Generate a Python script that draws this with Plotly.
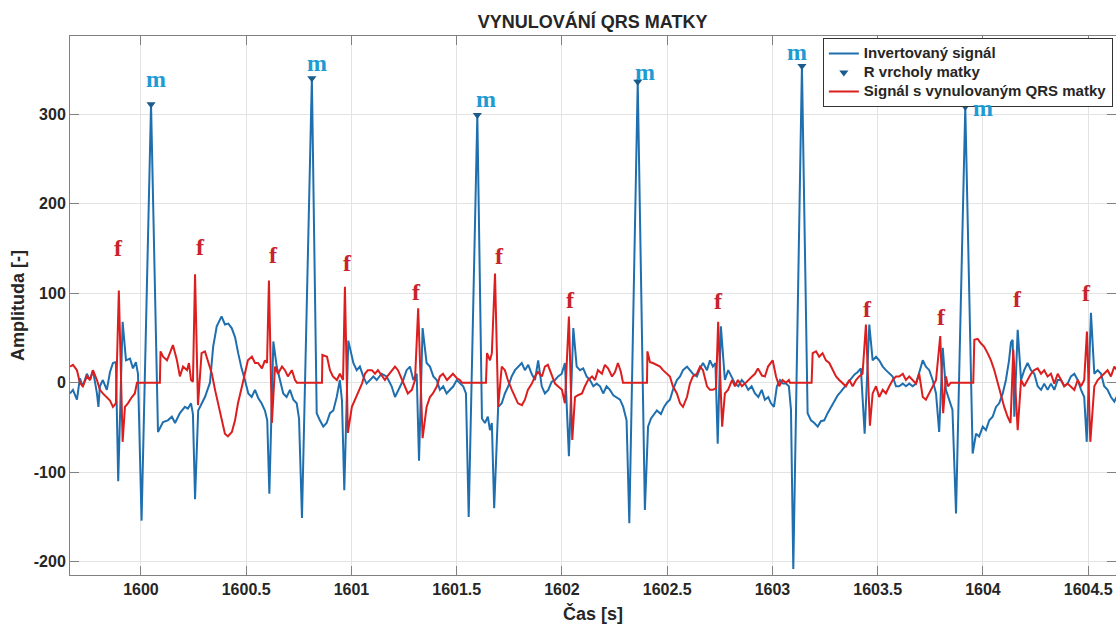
import plotly.graph_objects as go

# ---- Inverted abdominal signal (time [s], amplitude [-]) ----
blue_t = [
    1599.663, 1599.677, 1599.696, 1599.710, 1599.724, 1599.743, 1599.758, 1599.772, 1599.791, 1599.798,
    1599.805, 1599.819, 1599.838, 1599.853, 1599.867, 1599.881, 1599.892, 1599.913, 1599.929, 1599.948,
    1599.962, 1599.976, 1599.986, 1600.003, 1600.048, 1600.081, 1600.105, 1600.128, 1600.147, 1600.162,
    1600.185, 1600.209, 1600.223, 1600.238, 1600.247, 1600.257, 1600.272, 1600.288, 1600.304, 1600.328,
    1600.343, 1600.360, 1600.383, 1600.399, 1600.415, 1600.431, 1600.447, 1600.462, 1600.478, 1600.494,
    1600.510, 1600.526, 1600.542, 1600.557, 1600.573, 1600.589, 1600.600, 1600.610, 1600.629, 1600.645,
    1600.660, 1600.676, 1600.692, 1600.708, 1600.724, 1600.740, 1600.751, 1600.765, 1600.812, 1600.835,
    1600.850, 1600.866, 1600.882, 1600.898, 1600.914, 1600.930, 1600.945, 1600.955, 1600.966, 1600.985,
    1601.009, 1601.025, 1601.040, 1601.056, 1601.072, 1601.088, 1601.104, 1601.120, 1601.143, 1601.167,
    1601.191, 1601.207, 1601.222, 1601.246, 1601.262, 1601.278, 1601.294, 1601.310, 1601.321, 1601.338,
    1601.357, 1601.373, 1601.389, 1601.405, 1601.420, 1601.436, 1601.452, 1601.468, 1601.484, 1601.500,
    1601.515, 1601.531, 1601.544, 1601.557, 1601.598, 1601.620, 1601.634, 1601.648, 1601.658, 1601.667,
    1601.678, 1601.697, 1601.714, 1601.729, 1601.745, 1601.761, 1601.777, 1601.792, 1601.809, 1601.824,
    1601.840, 1601.856, 1601.872, 1601.887, 1601.904, 1601.919, 1601.935, 1601.951, 1601.967, 1601.982,
    1601.999, 1602.014, 1602.033, 1602.054, 1602.070, 1602.086, 1602.101, 1602.117, 1602.133, 1602.149,
    1602.165, 1602.181, 1602.196, 1602.212, 1602.228, 1602.244, 1602.260, 1602.276, 1602.291, 1602.307,
    1602.320, 1602.360, 1602.394, 1602.409, 1602.423, 1602.437, 1602.451, 1602.470, 1602.485, 1602.499,
    1602.513, 1602.527, 1602.546, 1602.561, 1602.575, 1602.594, 1602.608, 1602.622, 1602.641, 1602.656,
    1602.670, 1602.689, 1602.703, 1602.717, 1602.729, 1602.740, 1602.755, 1602.774, 1602.790, 1602.806,
    1602.822, 1602.838, 1602.854, 1602.869, 1602.885, 1602.901, 1602.917, 1602.933, 1602.949, 1602.964,
    1602.980, 1602.993, 1603.007, 1603.021, 1603.036, 1603.050, 1603.064, 1603.078, 1603.088, 1603.099,
    1603.140, 1603.167, 1603.183, 1603.199, 1603.215, 1603.230, 1603.246, 1603.262, 1603.278, 1603.294,
    1603.310, 1603.325, 1603.341, 1603.357, 1603.373, 1603.389, 1603.405, 1603.420, 1603.438, 1603.460,
    1603.476, 1603.492, 1603.507, 1603.524, 1603.539, 1603.555, 1603.571, 1603.587, 1603.602, 1603.619,
    1603.634, 1603.650, 1603.666, 1603.682, 1603.697, 1603.714, 1603.729, 1603.745, 1603.761, 1603.777,
    1603.792, 1603.809, 1603.824, 1603.838, 1603.855, 1603.872, 1603.916, 1603.951, 1603.967, 1603.982,
    1603.999, 1604.014, 1604.030, 1604.046, 1604.062, 1604.077, 1604.094, 1604.109, 1604.124, 1604.133,
    1604.141, 1604.149, 1604.165, 1604.181, 1604.196, 1604.212, 1604.228, 1604.244, 1604.260, 1604.276,
    1604.291, 1604.307, 1604.323, 1604.339, 1604.355, 1604.371, 1604.386, 1604.402, 1604.418, 1604.434,
    1604.450, 1604.466, 1604.481, 1604.493, 1604.513, 1604.529, 1604.545, 1604.561, 1604.576, 1604.592,
    1604.608, 1604.624, 1604.637,
]
blue_v = [
    -12, -8, -19, 5, -4, 10, 3, 14, -12, -27,
    -4, 3, -8, 12, 22, 23, -110, 68, 25, 27,
    16, 23, 10, -154, 311, -55, -44, -42, -38, -45,
    -34, -27, -29, -23, -35, -130, -31, -23, -16, 0,
    40, 63, 74, 65, 66, 61, 51, 33, 16, 3,
    -12, -16, -8, -17, -23, -31, -42, -124, 46, 18,
    3, -12, -16, -8, -19, -23, -40, -151, 340, -34,
    -42, -49, -45, -34, -31, -16, 3, -20, -120, 47,
    22, 14, 18, 7, -1, 3, 7, 3, 10, 7,
    -4, -16, -8, 3, 14, 18, 3, 10, -87, 61,
    22, 18, 7, 3, -8, -4, -12, -8, -4, 3,
    -1, -4, -12, -150, 299, -40, -45, -38, -53, -45,
    -140, -27, -23, -12, -4, 7, 14, 18, 22, 14,
    20, 10, 3, 25, -4, -12, -8, 1, 3, 7,
    10, 22, -82, 61, 18, 14, 16, 7, 3, -4,
    -1, -4, -12, -4, -8, -14, -17, -19, -27, -42,
    -157, 336, -142, -49, -40, -36, -31, -35, -27, -22,
    -19, -8, 3, 7, 14, 18, 14, 10, 7, 16,
    22, 14, 25, 18, 22, -68, 63, 3, 14, 7,
    -1, -4, 3, -1, -8, -4, -12, -16, -8, -19,
    -16, -23, -27, -4, 3, -1, -1, -4, -30, -208,
    353.5, -34, -42, -45, -49, -43, -42, -34, -27, -20,
    -14, -10, -5, 0, 5, 9, 12, 16, -57, 65,
    25, 29, 25, 18, 14, 10, 7, -4, -4, -1,
    -4, -1, -4, -1, 10, 25, 18, 14, 3, -12,
    -55, 39, -8, -19, -30, -146, 308, -79, -57, -60,
    -49, -53, -42, -38, -27, -23, -12, 3, 25, 45,
    48, -38, 59, 3, 14, 22, 14, 10, -4, -8,
    -1, -8, -1, -8, 3, 3, -4, -1, 7, 10,
    3, -8, -16, -66, 78, 10, 14, 10, -4, -8,
    -16, -21, -15,
]

# ---- Signal with the maternal QRS complexes set to zero ----
red_t = [
    1599.663, 1599.677, 1599.696, 1599.710, 1599.724, 1599.743, 1599.758, 1599.772, 1599.791, 1599.805,
    1599.819, 1599.838, 1599.853, 1599.867, 1599.881, 1599.895, 1599.913, 1599.924, 1599.938, 1599.957,
    1599.971, 1599.981, 1600.090, 1600.093, 1600.105, 1600.124, 1600.138, 1600.152, 1600.171, 1600.185,
    1600.200, 1600.219, 1600.228, 1600.238, 1600.247, 1600.257, 1600.271, 1600.288, 1600.304, 1600.318,
    1600.337, 1600.352, 1600.366, 1600.385, 1600.399, 1600.413, 1600.432, 1600.447, 1600.461, 1600.480,
    1600.494, 1600.508, 1600.527, 1600.542, 1600.556, 1600.575, 1600.589, 1600.599, 1600.608, 1600.622,
    1600.637, 1600.651, 1600.670, 1600.684, 1600.698, 1600.717, 1600.732, 1600.741, 1600.860, 1600.862,
    1600.884, 1600.898, 1600.912, 1600.931, 1600.945, 1600.960, 1600.969, 1600.983, 1601.002, 1601.017,
    1601.031, 1601.050, 1601.064, 1601.078, 1601.097, 1601.112, 1601.126, 1601.145, 1601.159, 1601.173,
    1601.192, 1601.207, 1601.221, 1601.240, 1601.254, 1601.268, 1601.287, 1601.302, 1601.317, 1601.338,
    1601.357, 1601.373, 1601.387, 1601.406, 1601.420, 1601.435, 1601.454, 1601.468, 1601.482, 1601.501,
    1601.515, 1601.525, 1601.639, 1601.644, 1601.658, 1601.667, 1601.682, 1601.697, 1601.714, 1601.729,
    1601.743, 1601.762, 1601.777, 1601.791, 1601.810, 1601.824, 1601.838, 1601.857, 1601.872, 1601.886,
    1601.905, 1601.919, 1601.933, 1601.952, 1601.967, 1601.981, 1602.000, 1602.014, 1602.033, 1602.049,
    1602.062, 1602.076, 1602.095, 1602.109, 1602.124, 1602.143, 1602.157, 1602.171, 1602.190, 1602.204,
    1602.219, 1602.238, 1602.252, 1602.266, 1602.280, 1602.290, 1602.404, 1602.406, 1602.418, 1602.432,
    1602.451, 1602.466, 1602.480, 1602.499, 1602.513, 1602.527, 1602.546, 1602.561, 1602.575, 1602.594,
    1602.608, 1602.622, 1602.641, 1602.656, 1602.670, 1602.689, 1602.703, 1602.717, 1602.732, 1602.742,
    1602.761, 1602.774, 1602.789, 1602.808, 1602.822, 1602.836, 1602.855, 1602.869, 1602.884, 1602.903,
    1602.917, 1602.931, 1602.950, 1602.964, 1602.979, 1603.001, 1603.017, 1603.026, 1603.032, 1603.048,
    1603.064, 1603.078, 1603.083, 1603.186, 1603.191, 1603.207, 1603.222, 1603.238, 1603.254, 1603.270,
    1603.286, 1603.302, 1603.317, 1603.333, 1603.349, 1603.365, 1603.381, 1603.397, 1603.412, 1603.428,
    1603.444, 1603.463, 1603.476, 1603.492, 1603.507, 1603.524, 1603.539, 1603.555, 1603.571, 1603.587,
    1603.602, 1603.619, 1603.634, 1603.650, 1603.666, 1603.682, 1603.697, 1603.714, 1603.729, 1603.745,
    1603.761, 1603.777, 1603.797, 1603.811, 1603.824, 1603.834, 1603.847, 1603.954, 1603.959, 1603.975,
    1603.990, 1604.006, 1604.022, 1604.038, 1604.054, 1604.070, 1604.086, 1604.101, 1604.117, 1604.131,
    1604.144, 1604.165, 1604.181, 1604.196, 1604.212, 1604.228, 1604.244, 1604.260, 1604.276, 1604.291,
    1604.307, 1604.323, 1604.339, 1604.355, 1604.371, 1604.386, 1604.402, 1604.418, 1604.434, 1604.450,
    1604.466, 1604.481, 1604.494, 1604.510, 1604.529, 1604.545, 1604.561, 1604.576, 1604.592, 1604.608,
    1604.624, 1604.637,
]
red_v = [
    18, 20, 14, 0, -4, 7, 3, 14, 3, -8,
    -12, -16, -20, -27, -23, 103, -66, -27, -23, -16,
    -12, 0, 0, 35, 29, 25, 33, 42, 25, 7,
    18, 14, 22, 3, 1, 121, -25, 33, 35, 25,
    10, -8, -23, -42, -57, -60, -55, -42, -23, -4,
    10, 25, 29, 22, 22, 16, 25, 22, 114, -45,
    18, 10, 18, 14, 7, 14, 3, 0, 0, 31,
    29, 14, 7, 3, 10, 3, 107, -56, -27, -19,
    -12, -1, 10, 14, 14, 10, 14, 7, 3, 8,
    14, 18, 14, 3, -4, -12, -8, 3, 83, -62,
    -27, -16, -12, -4, 7, 10, 3, 7, 10, 5,
    3, 0, 0, 33, 25, 33, 122, -27, 18, 14,
    3, -8, -16, -23, -25, -19, -8, -1, 7, 12,
    7, 18, 20, 7, -1, -4, -8, -23, 74, -64,
    -16, -14, -12, -4, 3, 7, 3, 14, 10, 20,
    16, 7, 12, 22, 12, 0, 0, 35, 23, 22,
    20, 18, 14, 10, 7, -4, -12, -23, -27, -16,
    -1, 7, 10, 18, 14, -4, -8, -8, -6, 68,
    -49, -12, -8, 3, -4, 3, -4, -1, 3, 7,
    10, 16, 8, 7, 18, 25, 7, 0, -4, 3,
    0, 3, 0, 0, 33, 35, 29, 33, 25, 22,
    14, 7, 3, -1, -4, 3, -4, 3, 7, 10,
    65, -48, -12, -4, -16, -8, -12, -4, 3, 7,
    7, 10, 3, 7, 3, -1, 10, -16, -19, -12,
    -4, 3, 52, -34, 7, -4, 0, 0, 48, 49,
    44, 40, 33, 25, 14, -1, -16, -27, -38, -45,
    37, -53, 3, -4, 3, 10, 14, 16, 10, 14,
    7, 10, -1, 10, 3, -4, -1, -4, -8, 3,
    -4, 3, 57, -66, -4, 3, 7, 10, 14, 7,
    18, 14,
]

# ---- Maternal R peaks ----
r_peak_t = [1600.048, 1600.812, 1601.598, 1602.360, 1603.140, 1603.916]
r_peak_v = [311, 340, 299, 336, 353.5, 308]

# ---- Text labels: maternal (m) and fetal (f) complexes ----
m_label_t = [1600.071, 1600.835, 1601.637, 1602.394, 1603.115, 1604.000]
m_label_v = [339, 356, 316, 346, 369, 306]
f_label_t = [1599.892, 1600.284, 1600.629, 1600.981, 1601.310, 1601.701,
             1602.042, 1602.746, 1603.451, 1603.803, 1604.164, 1604.493]
f_label_v = [150, 151, 143, 134, 101, 141, 92, 91, 82, 73, 94, 100]

legend_names = ["Invertovaný signál", "R vrcholy matky", "Signál s vynulovaným QRS matky"]

x_ticks = [1600, 1600.5, 1601, 1601.5, 1602, 1602.5, 1603, 1603.5, 1604, 1604.5]
y_ticks = [-200, -100, 0, 100, 200, 300]
x_range = [1599.663, 1604.632]
y_range = [-214.7, 387.1]

BLUE = "#1f6fae"
MARK = "#1b5c8c"
RED = "#dc1e1e"
M_COL = "#1f9bd4"
F_COL = "#c8232c"
SANS = "Liberation Sans, Arial, sans-serif"
SERIF = "Liberation Serif, Times New Roman, serif"
TXT = "#262626"


def legend_label(text):
    # legend rows are spaced by the (small) legend font; the text itself is drawn larger
    return f'<span style="font-size:15px">{text}</span>'


fig = go.Figure()
fig.add_trace(go.Scatter(x=blue_t, y=blue_v, mode="lines", name=legend_label(legend_names[0]),
                         line=dict(color=BLUE, width=2)))
fig.add_trace(go.Scatter(x=r_peak_t, y=r_peak_v, mode="markers", name=legend_label(legend_names[1]),
                         marker=dict(symbol="triangle-down", size=8, color=MARK)))
fig.add_trace(go.Scatter(x=red_t, y=red_v, mode="lines", name=legend_label(legend_names[2]),
                         line=dict(color=RED, width=2)))

# "m" labels: the box is trimmed to the lower part of the line (x-height glyph),
# so the label sitting just under the legend does not collide with it
for t, v in zip(m_label_t, m_label_v):
    fig.add_annotation(x=t, y=v, text="<b>m</b>", showarrow=False,
                       height=19, valign="bottom", yshift=-3,
                       font=dict(family=SERIF, size=24, color=M_COL))
for t, v in zip(f_label_t, f_label_v):
    fig.add_annotation(x=t, y=v, text="<b>f</b>", showarrow=False,
                       font=dict(family=SERIF, size=24, color=F_COL))

axis_common = dict(
    showgrid=True, gridcolor="#e3e3e3", gridwidth=1,
    showline=True, linecolor="#808080", linewidth=1, mirror="ticks",
    ticks="inside", ticklen=9, tickcolor="#808080",
    zeroline=False,
    tickfont=dict(family=SANS, size=16, color=TXT, weight="bold"),
)

fig.update_xaxes(range=x_range, tickvals=x_ticks, ticktext=[f"{v:g}" for v in x_ticks],
                 title=dict(text="<b>Čas [s]</b>", font=dict(family=SANS, size=18, color=TXT),
                            standoff=10),
                 **axis_common)
fig.update_yaxes(range=y_range, tickvals=y_ticks, ticktext=[str(v) for v in y_ticks],
                 title=dict(text="<b>Amplituda [-]</b>", font=dict(family=SANS, size=18, color=TXT),
                            standoff=4),
                 **axis_common)

fig.update_layout(
    width=1116, height=625,
    margin=dict(l=70, r=0, t=36, b=50),
    paper_bgcolor="white", plot_bgcolor="white",
    title=dict(text="<b>VYNULOVÁNÍ QRS MATKY</b>", x=0.531, xanchor="center",
               y=0.966, yanchor="middle", font=dict(family=SANS, size=18, color=TXT)),
    legend=dict(x=0.997, xanchor="right", y=0.9963, yanchor="top",
                bgcolor="white", bordercolor="#333333", borderwidth=1,
                font=dict(family=SANS, size=11, color=TXT, weight="bold"),
                itemwidth=30, tracegroupgap=0),
    showlegend=True,
)

fig.write_html("out.html")
